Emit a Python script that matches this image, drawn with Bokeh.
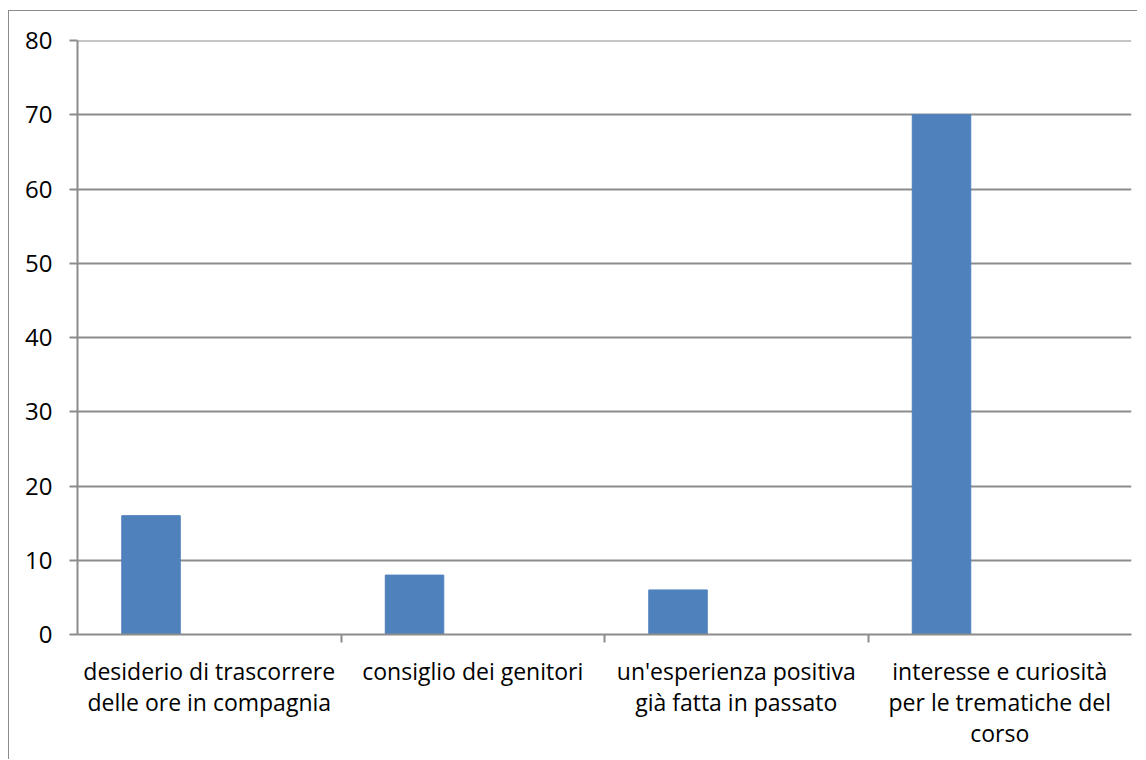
from bokeh.plotting import figure
from bokeh.models import ColumnDataSource, FactorRange, Range1d, CategoricalAxis, FixedTicker, Span
from bokeh.transform import dodge
from bokeh.embed import file_html
from bokeh.resources import INLINE

categories = [
    "desiderio di trascorrere\ndelle ore in compagnia",
    "consiglio dei genitori",
    "un'esperienza positiva\ngià fatta in passato",
    "interesse e curiosità\nper le trematiche del\ncorso",
]
values = [16, 8, 6, 70]
y_ticks = [0, 10, 20, 30, 40, 50, 60, 70, 80]
boundary_factors = ["b0", "b1", "b2", "b3", "b4"]

GRAY = "#8c8c8c"
FONT = "Open Sans"

source = ColumnDataSource(data=dict(cat=categories, val=values))

p = figure(
    width=1129, height=749,
    x_range=FactorRange(factors=categories, range_padding=0, factor_padding=0),
    y_range=Range1d(0, 80),
    output_backend="svg", toolbar_location=None, tools="",
    min_border_left=68, min_border_right=7, min_border_top=29, min_border_bottom=126,
    border_fill_color=None, background_fill_color="white",
    outline_line_color=None,
)
# boundary range: 5 factors whose centres fall on the category edges
p.extra_x_ranges = {"bounds": FactorRange(factors=boundary_factors, range_padding=-0.5,
                                          range_padding_units="absolute", factor_padding=0)}
p.styles = {"border-top": "1px solid " + GRAY, "border-left": "1px solid " + GRAY,
            "margin-top": "10px", "margin-left": "8px"}

p.vbar(x=dodge("cat", -0.221, range=p.x_range), top="val", width=0.222, source=source,
       fill_color="#4f81bd", line_color="#4f81bd", line_width=1)

# y axis
yax = p.yaxis[0]
yax.ticker = FixedTicker(ticks=y_ticks)
yax.axis_line_color = GRAY
yax.axis_line_width = 2
yax.major_tick_line_color = GRAY
yax.major_tick_line_width = 2
yax.major_tick_in = 0
yax.major_tick_out = 8
yax.minor_tick_line_color = None
yax.major_label_text_font = FONT
yax.major_label_text_font_size = "24px"
yax.major_label_text_color = "black"
yax.major_label_standoff = 17

p.ygrid.ticker = FixedTicker(ticks=y_ticks)
p.ygrid.grid_line_color = GRAY
p.ygrid.grid_line_width = 2
p.xgrid.visible = False
p.add_layout(Span(location=y_ticks[-1], dimension="width", line_color=GRAY, line_width=2))

# category label axis
cat_axis = p.xaxis[0]
cat_axis.axis_line_color = None
cat_axis.major_tick_line_color = None
cat_axis.major_tick_in = 0
cat_axis.major_tick_out = 0
cat_axis.major_label_text_font = FONT
cat_axis.major_label_text_font_size = "23px"
cat_axis.major_label_text_color = "black"
cat_axis.major_label_text_line_height = 0.97
cat_axis.major_label_standoff = 12
cat_axis.major_label_orientation = "horizontal"

# boundary tick axis (ticks between categories)
tick_axis = CategoricalAxis(x_range_name="bounds")
tick_axis.axis_line_color = GRAY
tick_axis.axis_line_width = 2
tick_axis.major_tick_line_color = GRAY
tick_axis.major_tick_line_width = 2
tick_axis.major_tick_in = 0
tick_axis.major_tick_out = 8
tick_axis.minor_tick_line_color = None
tick_axis.major_label_text_color = None
tick_axis.major_label_text_font_size = "1px"
tick_axis.major_label_standoff = 0
tick_axis.major_label_overrides = {f: "" for f in boundary_factors}

p.below = [tick_axis, cat_axis]

open("out.html", "w").write(file_html(p, INLINE))
